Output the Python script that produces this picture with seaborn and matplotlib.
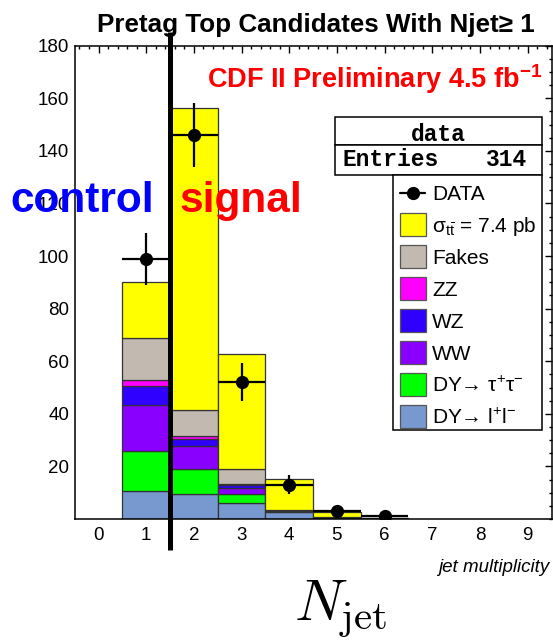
import numpy as np
import pandas as pd
import matplotlib
matplotlib.use("Agg")
import matplotlib.pyplot as plt
import seaborn as sns
from matplotlib.patches import Rectangle
from matplotlib.lines import Line2D
from matplotlib.ticker import MultipleLocator
from matplotlib.transforms import blended_transform_factory

# ---- jet multiplicity bins and observed events ----
njet = [1, 2, 3, 4, 5, 6]
data_counts = [99, 146, 52, 13, 3, 1]
entries = 314

# ---- expected contributions per bin (stacked, top to bottom) ----
ttbar = [21.3, 114.7, 43.4, 11.6, 1.9, 0.3]
fakes = [16.0, 10.0, 5.9, 0.2, 0.1, 0.05]
zz = [2.3, 1.1, 0.4, 0.02, 0.01, 0.0]
wz = [7.0, 2.8, 1.1, 0.05, 0.02, 0.0]
ww = [17.7, 8.5, 2.2, 0.1, 0.05, 0.0]
dy_tautau = [15.0, 9.6, 3.7, 0.7, 0.15, 0.05]
dy_ll = [10.7, 9.5, 5.9, 2.5, 0.5, 0.1]

process_keys = ["ttbar", "fakes", "zz", "wz", "ww", "dy_tautau", "dy_ll"]
process_values = [ttbar, fakes, zz, wz, ww, dy_tautau, dy_ll]
process_labels = [
    r"$\mathrm{\sigma}_{\mathrm{t\bar{t}}}$ = 7.4 pb",
    "Fakes",
    "ZZ",
    "WZ",
    "WW",
    "DY\u2192 $\\mathrm{\\tau}^{+}\\mathrm{\\tau}^{-}$",
    "DY\u2192 l$^{+}$l$^{-}$",
]
process_colors = ["#ffff00", "#c2b9b0", "#ff00ff", "#2f00ff", "#8a00ff", "#00ff00", "#7899cf"]

sns.set_theme(style="white")
plt.rcParams["font.family"] = ["Liberation Sans", "DejaVu Sans"]
plt.rcParams["mathtext.fontset"] = "custom"
plt.rcParams["mathtext.rm"] = "Liberation Sans"
plt.rcParams["mathtext.it"] = "Liberation Sans:italic"
plt.rcParams["mathtext.bf"] = "Liberation Sans:bold"
plt.rcParams["mathtext.sf"] = "Liberation Sans"
for key in ["text.color", "axes.labelcolor", "xtick.color", "ytick.color",
            "xtick.labelcolor", "ytick.labelcolor"]:
    plt.rcParams[key] = "black"

W, H = 553, 640
fig = plt.figure(figsize=(W / 100, H / 100), dpi=100)


def fx(px):
    return px / W


def fy(py):
    return 1 - py / H


ax = fig.add_axes([fx(74.7), fy(519), fx(551.5) - fx(74.7), fy(45.7) - fy(519)])

rows = []
for key, vals in zip(process_keys, process_values):
    for n, v in zip(njet, vals):
        rows.append({"njet": n, "events": v, "process": key})
mc = pd.DataFrame(rows)

sns.histplot(
    data=mc, x="njet", weights="events", hue="process",
    hue_order=process_keys, palette=dict(zip(process_keys, process_colors)),
    multiple="stack", discrete=True, alpha=1, edgecolor="#333333",
    linewidth=0.9, legend=False, ax=ax,
)

# observed data with Poisson errors
ax.errorbar(njet, data_counts, yerr=np.sqrt(data_counts), xerr=0.5,
            fmt="o", color="black", ms=8.5, elinewidth=1.6, capsize=0, zorder=10)

ax.set_xlim(-0.5, 9.5)
ax.set_ylim(0, 180)
ax.set_xticks(range(0, 10))
ax.set_yticks(range(20, 181, 20))
ax.xaxis.set_minor_locator(MultipleLocator(0.2))
ax.yaxis.set_minor_locator(MultipleLocator(5))
ax.tick_params(which="both", direction="in", top=True, right=True, width=1,
               color="black", labelcolor="black")
ax.tick_params(which="major", length=5, labelsize=13.5, pad=4)
ax.tick_params(which="minor", length=2.5)
ax.tick_params(axis="x", which="major", pad=6)
for s in ax.spines.values():
    s.set_linewidth(1.1)
    s.set_color("black")
ax.set_xlabel("")
ax.set_ylabel("")

# control / signal separator
trans = blended_transform_factory(ax.transData, fig.transFigure)
ax.plot([1.5, 1.5], [fy(550), fy(32)], color="black", lw=3.6, transform=trans,
        clip_on=False, zorder=20, solid_capstyle="butt")

# titles and annotations
fig.text(fx(316), fy(32), "Pretag Top Candidates With Njet\u2265 1", ha="center",
         va="baseline", fontsize=18.7, weight="bold", color="black")
fig.text(fx(207), fy(88.5), r"CDF II Preliminary 4.5 fb$^{\mathbf{-1}}$", ha="left",
         va="baseline", fontsize=19.5, weight="bold", color="#ff0000")
fig.text(fx(10), fy(212), "control", ha="left", va="baseline", fontsize=30.5,
         weight="bold", color="#0000ff")
fig.text(fx(180), fy(212), "signal", ha="left", va="baseline", fontsize=30.5,
         weight="bold", color="#ff0000")
fig.text(fx(549), fy(572), "jet multiplicity", ha="right", va="baseline",
         fontsize=13.5, style="italic", color="black")
fig.text(fx(340), fy(620), r"$N_{\rm jet}$", ha="center", va="baseline",
         fontsize=42, math_fontfamily="cm", color="black")

# statistics box
def frame(x0, y0, x1, y1):
    fig.patches.append(Rectangle((fx(x0), fy(y1)), fx(x1) - fx(x0), fy(y0) - fy(y1),
                                 transform=fig.transFigure, facecolor="white",
                                 edgecolor="black", lw=1.1, zorder=30))

frame(335, 116.7, 541.5, 145)
frame(335, 145, 541.5, 175)
mono = ["Liberation Mono", "DejaVu Sans Mono"]
fig.text(fx(438), fy(141), "data", ha="center", va="baseline", fontsize=16.5,
         family=mono, weight="bold", zorder=31, color="black")
fig.text(fx(343), fy(166), "Entries", ha="left", va="baseline", fontsize=16.5,
         family=mono, weight="bold", zorder=31, color="black")
fig.text(fx(527), fy(166), str(entries), ha="right", va="baseline", fontsize=16.5,
         family=mono, weight="bold", zorder=31, color="black")

# legend box
frame(393.3, 175, 541.5, 430)
row0, step = 192.5, 32
fig.lines.append(Line2D([fx(400), fx(425)], [fy(row0), fy(row0)], color="black", lw=1.6,
                        transform=fig.transFigure, zorder=31))
fig.lines.append(Line2D([fx(412.5)], [fy(row0)], color="black", marker="o", ms=8.5,
                        ls="none", transform=fig.transFigure, zorder=32))
fig.text(fx(432), fy(row0 + 7.5), "DATA", ha="left", va="baseline", fontsize=15,
         zorder=31, color="black")
for i, (lab, col) in enumerate(zip(process_labels, process_colors)):
    yc = row0 + step * (i + 1)
    fig.patches.append(Rectangle((fx(399.5), fy(yc + 11.5)), fx(26), 23 / H,
                                 transform=fig.transFigure, facecolor=col,
                                 edgecolor="#555555", lw=0.9, zorder=31))
    fig.text(fx(432), fy(yc + 7.5), lab, ha="left", va="baseline", fontsize=15,
             zorder=31, color="black")

fig.savefig("out.png", dpi=100, facecolor="white")
